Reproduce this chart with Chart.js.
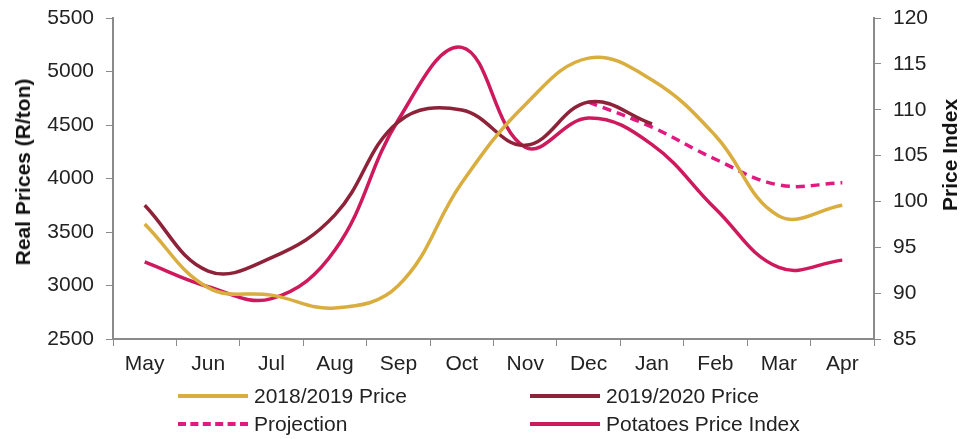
<!DOCTYPE html>
<html><head><meta charset="utf-8">
<script src="https://cdn.jsdelivr.net/npm/chart.js@4"></script>
<style>
html,body{margin:0;padding:0;background:#fff;}
#wrap{position:relative;width:976px;height:439px;}
canvas{position:absolute;left:0;top:0;}
.lg{position:absolute;font-family:"Liberation Sans",Arial,sans-serif;font-size:21px;color:#222;display:flex;align-items:center;white-space:nowrap;}
.sw{width:70px;height:0;margin-right:6px;}
.ttl{position:absolute;font-family:"Liberation Sans",Arial,sans-serif;font-size:21px;font-weight:bold;color:#111;white-space:nowrap;transform:translate(-50%,-50%) rotate(-90deg);}
</style></head>
<body><div id="wrap"><canvas id="c" width="976" height="439"></canvas>
<div class="ttl" style="left:23px;top:172px">Real Prices (R/ton)</div>
<div class="ttl" style="left:950px;top:155px">Price Index</div>
<div class="lg" style="left:178px;top:384px"><span class="sw" style="border-top:4px solid #D9AD3E"></span>2018/2019 Price</div>
<div class="lg" style="left:530px;top:384px"><span class="sw" style="border-top:4px solid #8E2239"></span>2019/2020 Price</div>
<div class="lg" style="left:178px;top:412px"><span class="sw" style="border-top:4px dashed #E2197F"></span>Projection</div>
<div class="lg" style="left:530px;top:412px"><span class="sw" style="border-top:4px solid #CE1A5C"></span>Potatoes Price Index</div>
</div>
<script>
const months = ["May","Jun","Jul","Aug","Sep","Oct","Nov","Dec","Jan","Feb","Mar","Apr"];
const price1819 = [3575,2980,2910,2790,3000,3960,4690,5125,4920,4400,3650,3750];
const price1920 = [3750,3135,3260,3660,4530,4640,4310,4715,4510,null,null,null];
const projection = [null,null,null,null,null,null,null,4715,4480,4180,3940,3960];
const priceIndex = [93.4,90.7,89.4,94.7,108.9,116.8,105.9,109.1,106.2,99.2,92.8,93.6];

const tickFont = {family:"'Liberation Sans', Arial, sans-serif", size:21};
const axisColor = "#8a8a8a";

new Chart(document.getElementById("c"), {
  type: "line",
  data: {
    labels: months,
    datasets: [
      {label:"2018/2019 Price", data:price1819, borderColor:"#D9AD3E", borderWidth:3.5, pointRadius:0, tension:0.4, yAxisID:"y", fill:false},
      {label:"2019/2020 Price", data:price1920, borderColor:"#8E2239", borderWidth:3.5, pointRadius:0, tension:0.4, yAxisID:"y", fill:false},
      {label:"Projection", data:projection, borderColor:"#E2197F", borderWidth:3.5, borderDash:[9,6], pointRadius:0, tension:0.4, yAxisID:"y", fill:false},
      {label:"Potatoes Price Index", data:priceIndex, borderColor:"#CE1A5C", borderWidth:3.5, pointRadius:0, tension:0.4, yAxisID:"y1", fill:false}
    ]
  },
  options: {
    responsive:false, animation:false,
    layout:{padding:{top:18,left:0,right:0,bottom:0}},
    plugins:{legend:{display:false}, tooltip:{enabled:false}},
    scales:{
      x:{
        offset:true,
        grid:{display:true, drawOnChartArea:false, drawTicks:true, tickLength:7, color:axisColor, offset:true},
        border:{color:axisColor, width:2},
        ticks:{font:tickFont, color:"#222", padding:6, maxRotation:0},
        afterFit:(s)=>{s.height=100; s.paddingLeft=0; s.paddingRight=0;}
      },
      y:{
        position:"left", min:2500, max:5500,
        grid:{display:true, drawOnChartArea:false, drawTicks:true, tickLength:7, color:axisColor},
        border:{color:axisColor, width:2},
        ticks:{stepSize:500, font:tickFont, color:"#222", padding:12, callback:(v)=>String(v)},
        afterFit:(s)=>{s.width=113; s.paddingTop=0; s.paddingBottom=0;}
      },
      y1:{
        position:"right", min:85, max:120,
        grid:{display:true, drawOnChartArea:false, drawTicks:true, tickLength:7, color:axisColor},
        border:{color:axisColor, width:2},
        ticks:{stepSize:5, font:tickFont, color:"#222", padding:12},
        afterFit:(s)=>{s.width=102; s.paddingTop=0; s.paddingBottom=0;}
      }
    }
  }
});
</script></body></html>
